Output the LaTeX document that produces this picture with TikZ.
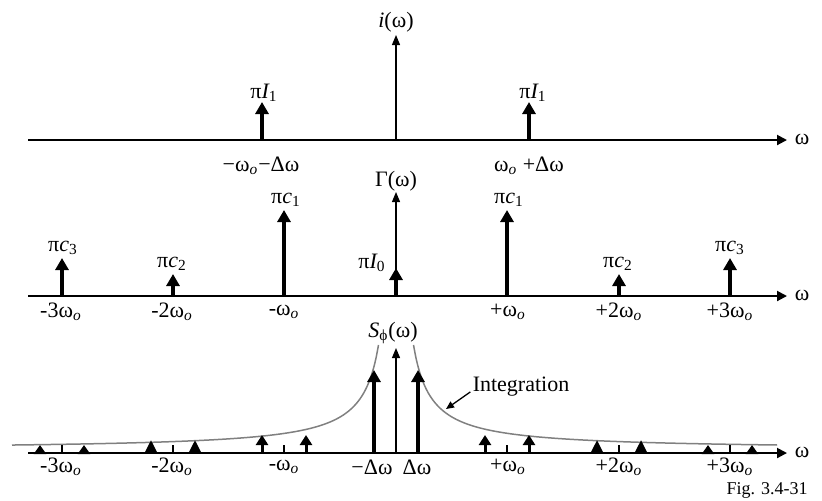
\documentclass[tikz,border=0pt]{standalone}
\usepackage{fontspec}
\setmainfont{Liberation Serif}
\usetikzlibrary{positioning, arrows.meta}

\newcommand{\wo}{ω\textsubscript{\itshape o}}

\begin{document}
\begin{tikzpicture}[
    x=0.5pt, y=-0.5pt,
    font=\fontsize{11}{13}\selectfont,
    axis/.style={line width=1pt, -{Triangle[length=5pt, width=5pt]}},
    ordinate/.style={line width=0.6pt, -{Triangle[length=5pt, width=4pt]}},
    impulse/.style={line width=1.6pt, -{Triangle[length=6pt, width=6.5pt]}},
    sideband/.style={line width=1.5pt, -{Triangle[length=#1, width=6pt]}},
    tickmark/.style={line width=0.8pt},
    spectrum/.style={line width=0.75pt, gray},
    lbl/.style={inner sep=1pt},
]
\useasboundingbox (0,0) rectangle (822,500);

% ---- top panel: i(w) ----
\coordinate (ta0) at (28,140);
\coordinate (ta1) at (787,140);
\draw[axis] (ta0) -- (ta1);
\node[lbl] (tw) at (802,139) {ω};
\coordinate (tc0) at (396,140);
\coordinate (tc1) at (396,35);
\draw[ordinate] (tc0) -- (tc1);
\node[lbl] (ti) at (396,22) {{\itshape i}(ω)};

\coordinate (tl0) at (262,140);
\coordinate (tl1) at (262,102);
\draw[impulse] (tl0) -- (tl1);
\node[lbl] (tlt) at (264,93) {π{\itshape I}\textsubscript{1}};
\node[lbl] (tlb) at (261,166) {−\wo−Δω};

\coordinate (tr0) at (529,140);
\coordinate (tr1) at (529,102);
\draw[impulse] (tr0) -- (tr1);
\node[lbl] (trt) at (533,93) {π{\itshape I}\textsubscript{1}};
\node[lbl] (trb) at (529,166) {\wo\ +Δω};

% ---- middle panel: Gamma(w) ----
\coordinate (ma0) at (28,296);
\coordinate (ma1) at (787,296);
\draw[axis] (ma0) -- (ma1);
\node[lbl] (mw) at (802,295) {ω};
\coordinate (mc0) at (396,296);
\coordinate (mc1) at (396,192);
\draw[ordinate] (mc0) -- (mc1);
\node[lbl] (mg) at (396,181) {Γ(ω)};
\coordinate (mc2) at (396,268);
\draw[impulse] (mc0) -- (mc2);
\node[lbl] (mi0) at (372,263) {π{\itshape I}\textsubscript{0}};

\coordinate (m30) at (62,296);   \coordinate (m31) at (62,258);
\coordinate (m20) at (173,296);  \coordinate (m21) at (173,274);
\coordinate (m10) at (284,296);  \coordinate (m11) at (284,210);
\coordinate (p10) at (507,296);  \coordinate (p11) at (507,210);
\coordinate (p20) at (619,296);  \coordinate (p21) at (619,274);
\coordinate (p30) at (730,296);  \coordinate (p31) at (730,258);
\draw[impulse] (m30) -- (m31);
\draw[impulse] (m20) -- (m21);
\draw[impulse] (m10) -- (m11);
\draw[impulse] (p10) -- (p11);
\draw[impulse] (p20) -- (p21);
\draw[impulse] (p30) -- (p31);

\node[lbl] (m3t) at (63,248) {π{\itshape c}\textsubscript{3}};
\node[lbl] (m2t) at (172,264) {π{\itshape c}\textsubscript{2}};
\node[lbl] (m1t) at (286,200) {π{\itshape c}\textsubscript{1}};
\node[lbl] (p1t) at (509,200) {π{\itshape c}\textsubscript{1}};
\node[lbl] (p2t) at (618,264) {π{\itshape c}\textsubscript{2}};
\node[lbl] (p3t) at (730,248) {π{\itshape c}\textsubscript{3}};

\node[lbl] (m3b) at (61,312) {-3\wo};
\node[lbl] (m2b) at (172,312) {-2\wo};
\node[lbl] (m1b) at (284,312) {-\wo};
\node[lbl] (p1b) at (508,312) {+\wo};
\node[lbl] (p2b) at (619,312) {+2\wo};
\node[lbl] (p3b) at (730,312) {+3\wo};

% ---- bottom panel: S_phi(w) ----
\draw[spectrum] plot[domain=17.5:384, samples=150, smooth] ({396-\x},{449.8-1835/\x});
\draw[spectrum] plot[domain=17.5:381, samples=150, smooth] ({396+\x},{449.8-1835/\x});

\coordinate (ba0) at (28,453);
\coordinate (ba1) at (787,453);
\draw[axis] (ba0) -- (ba1);
\node[lbl] (bw) at (802,452) {ω};
\coordinate (bc0) at (396,453);
\coordinate (bc1) at (396,348);
\draw[ordinate] (bc0) -- (bc1);
\node[lbl] (bs) at (393,333) {{\itshape S}\textsubscript{ϕ}(ω)};

\coordinate (bl0) at (374,453);  \coordinate (bl1) at (374,370);
\coordinate (br0) at (418,453);  \coordinate (br1) at (418,370);
\draw[impulse] (bl0) -- (bl1);
\draw[impulse] (br0) -- (br1);

% tick marks at multiples of w_o
\draw[tickmark] (62,453) -- (62,445);
\draw[tickmark] (173,453) -- (173,445);
\draw[tickmark] (284,453) -- (284,445);
\draw[tickmark] (507,453) -- (507,445);
\draw[tickmark] (619,453) -- (619,445);
\draw[tickmark] (730,453) -- (730,445);

% sidebands at k w_o +- dw
\draw[sideband=4.5pt] (40,453) -- (40,445);
\draw[sideband=4.5pt] (84,453) -- (84,445);
\draw[sideband=6.5pt] (151,453) -- (151,440);
\draw[sideband=6.5pt] (195,453) -- (195,440);
\draw[sideband=5pt] (262,453) -- (262,435);
\draw[sideband=5pt] (306,453) -- (306,435);
\draw[sideband=5pt] (485,453) -- (485,435);
\draw[sideband=5pt] (529,453) -- (529,435);
\draw[sideband=6.5pt] (597,453) -- (597,440);
\draw[sideband=6.5pt] (641,453) -- (641,440);
\draw[sideband=4.5pt] (708,453) -- (708,445);
\draw[sideband=4.5pt] (752,453) -- (752,445);

\node[lbl] (b3m) at (61,467) {-3\wo};
\node[lbl] (b2m) at (172,467) {-2\wo};
\node[lbl] (b1m) at (284,467) {-\wo};
\node[lbl] (bdm) at (372,467) {−Δω};
\node[lbl] (bdp) at (417,467) {Δω};
\node[lbl] (b1p) at (508,467) {+\wo};
\node[lbl] (b2p) at (619,467) {+2\wo};
\node[lbl] (b3p) at (730,467) {+3\wo};

\node[lbl] (integ) at (521,387) {Integration};
\coordinate (ib) at (446,409);
\draw[line width=0.65pt, -{Triangle[length=4pt, width=3.5pt]}] (integ.base west) -- (ib);

\node[lbl, font=\fontsize{9}{11}\selectfont] (fig) at (767,490) {Fig. 3.4-31};

\end{tikzpicture}
\end{document}
